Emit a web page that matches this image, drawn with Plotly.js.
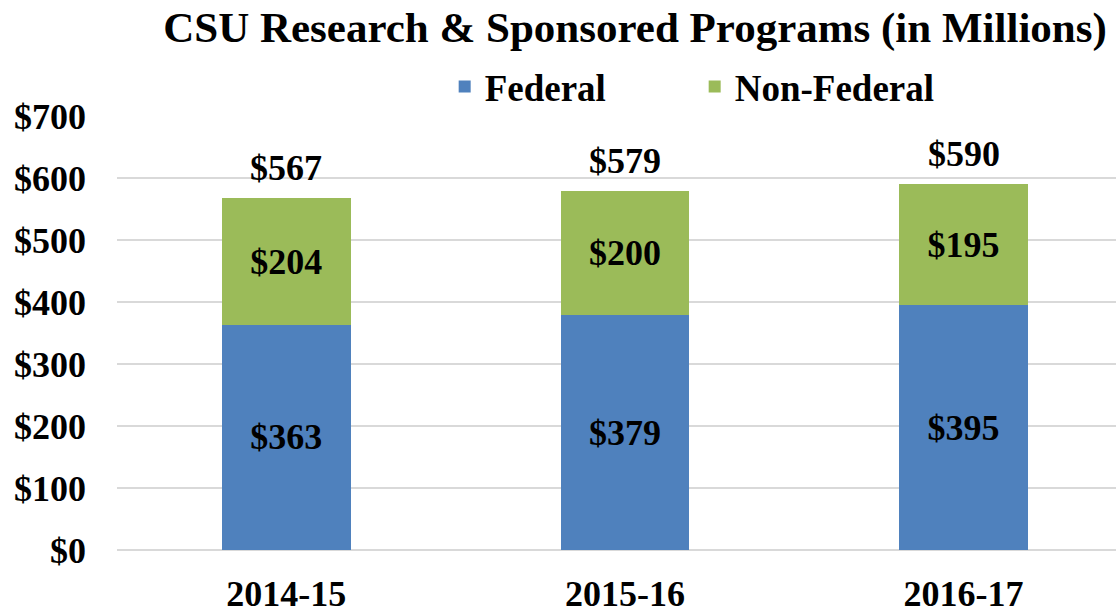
<!DOCTYPE html>
<html><head><meta charset="utf-8">
<script src="https://cdn.plot.ly/plotly-3.0.1.min.js"></script>
<style>html,body{margin:0;padding:0;background:#fff}#chart{width:1116px;height:609px}</style>
</head><body><div id="chart"></div>
<script>
const years = ['2014-15', '2015-16', '2016-17'];
const federal = [363, 379, 395];
const nonFederal = [204, 200, 195];
const totals = [567, 579, 590];

const FONT = 'Liberation Serif, Times New Roman, serif';
const fmt = v => '$' + v;
const boldFont = size => ({family: FONT, size: size, color: '#000', weight: 700});

const traces = [
  {type: 'bar', name: 'Federal', x: years, y: federal,
   marker: {color: '#4F81BD'}, width: 0.38,
   text: federal.map(fmt), textposition: 'inside', insidetextanchor: 'middle',
   textfont: boldFont(36), constraintext: 'none', hoverinfo: 'none'},
  {type: 'bar', name: 'Non-Federal', x: years, y: nonFederal,
   marker: {color: '#9BBB59'}, width: 0.38,
   text: nonFederal.map(fmt), textposition: 'inside', insidetextanchor: 'middle',
   textfont: boldFont(36), constraintext: 'none', hoverinfo: 'none'}
];

const annotations = years.map((yr, i) => ({
  x: yr, y: totals[i], xref: 'x', yref: 'y', text: fmt(totals[i]),
  showarrow: false, yanchor: 'bottom', yshift: 8, font: boldFont(36)
}));

const layout = {
  width: 1116, height: 609,
  margin: {l: 117, r: 0, t: 116, b: 59},
  barmode: 'stack',
  paper_bgcolor: '#fff', plot_bgcolor: '#fff',
  font: {family: FONT, color: '#000', size: 36, weight: 700},
  title: {text: 'CSU Research & Sponsored Programs (in Millions)',
    font: boldFont(43), x: 0.569, xanchor: 'center', y: 0.955, yanchor: 'middle'},
  legend: {orientation: 'h', x: 0.328, xanchor: 'left', y: 1.067, yanchor: 'middle',
    font: boldFont(37), itemwidth: 30, entrywidth: 205, entrywidthmode: 'pixels',
    traceorder: 'normal', bgcolor: 'rgba(0,0,0,0)'},
  annotations: annotations,
  xaxis: {range: [-0.5, 2.45], showgrid: false, showline: false, zeroline: false,
    tickfont: boldFont(36), ticks: '', ticklabelstandoff: 19, fixedrange: true},
  yaxis: {range: [0, 700], dtick: 100, tickprefix: '$',
    showgrid: true, gridcolor: '#d9d9d9', gridwidth: 2,
    zeroline: true, zerolinecolor: '#d9d9d9', zerolinewidth: 2,
    tickfont: boldFont(36), ticks: '', ticklabelstandoff: 30, fixedrange: true}
};

Plotly.newPlot('chart', traces, layout, {displayModeBar: false, staticPlot: true});
</script></body></html>
